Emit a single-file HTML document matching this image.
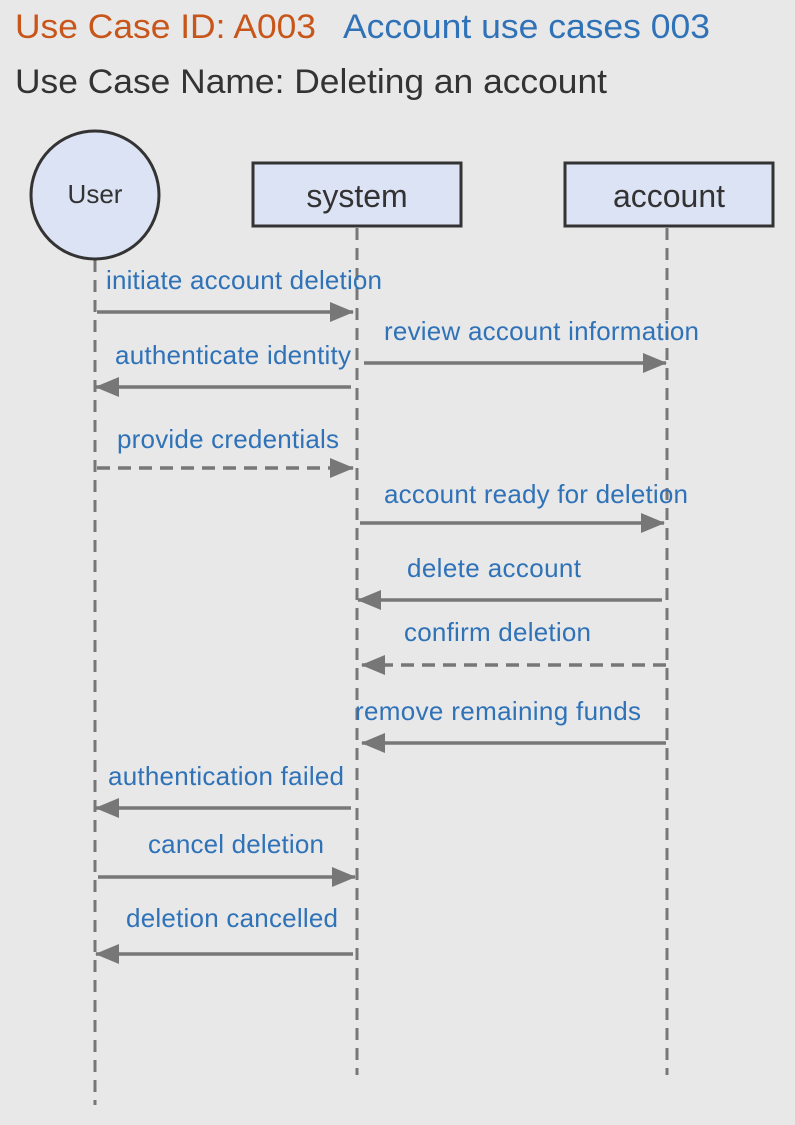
<!DOCTYPE html>
<html><head><style>
html,body{margin:0;padding:0;background:#e8e8e8;}
svg{display:block;font-family:"Liberation Sans",Arial,sans-serif;}
</style></head><body>
<svg width="795" height="1125" viewBox="0 0 795 1125" xmlns="http://www.w3.org/2000/svg">
<rect x="0" y="0" width="795" height="1125" fill="#e8e8e8"/>
<text x="15" y="38" font-size="34" fill="#c8561b" textLength="301" lengthAdjust="spacingAndGlyphs">Use Case ID: A003</text>
<text x="343" y="38" font-size="34" fill="#2f72b8" textLength="367" lengthAdjust="spacingAndGlyphs">Account use cases 003</text>
<text x="15" y="93" font-size="34" fill="#333" textLength="592" lengthAdjust="spacingAndGlyphs">Use Case Name: Deleting an account</text>
<defs>
<marker id="b" markerWidth="24" markerHeight="20" refX="23" refY="10" orient="auto" markerUnits="userSpaceOnUse"><path d="M0,0 L24,10 L0,20 z" fill="#777"/></marker>
</defs>
<g stroke="#777" stroke-width="3" stroke-dasharray="12,8" fill="none">
<line x1="95" y1="260" x2="95" y2="1105"/>
<line x1="357" y1="228" x2="357" y2="1075"/>
<line x1="667" y1="228" x2="667" y2="1075"/>
</g>
<circle cx="95" cy="195" r="64" fill="#dce3f5" stroke="#333" stroke-width="3"/>
<text x="95" y="203" font-size="26" text-anchor="middle" fill="#333">User</text>
<rect x="253" y="163" width="208" height="63" fill="#dce3f5" stroke="#333" stroke-width="3"/>
<text x="357" y="207" font-size="32" text-anchor="middle" fill="#333">system</text>
<rect x="565" y="163" width="208" height="63" fill="#dce3f5" stroke="#333" stroke-width="3"/>
<text x="669" y="207" font-size="32" text-anchor="middle" fill="#333">account</text>
<g stroke="#777" stroke-width="3.5" fill="none" marker-end="url(#b)">
<line x1="97" y1="312" x2="353" y2="312"/>
<line x1="364" y1="363" x2="666" y2="363"/>
<line x1="351" y1="387" x2="96" y2="387"/>
<line x1="97" y1="468" x2="353" y2="468" stroke-dasharray="13,8"/>
<line x1="360" y1="523" x2="664" y2="523"/>
<line x1="662" y1="600" x2="358" y2="600"/>
<line x1="666" y1="665" x2="362" y2="665" stroke-dasharray="13,8"/>
<line x1="666" y1="743" x2="362" y2="743"/>
<line x1="351" y1="808" x2="96" y2="808"/>
<line x1="98" y1="877" x2="355" y2="877"/>
<line x1="353" y1="954" x2="96" y2="954"/>
</g>
<g font-size="26" fill="#2f72b8" lengthAdjust="spacingAndGlyphs">
<text x="106" y="289" textLength="276">initiate account deletion</text>
<text x="384" y="340" textLength="315">review account information</text>
<text x="115" y="364" textLength="236">authenticate identity</text>
<text x="117" y="448" textLength="222">provide credentials</text>
<text x="384" y="503" textLength="304">account ready for deletion</text>
<text x="407" y="577" textLength="174">delete account</text>
<text x="404" y="641" textLength="187">confirm deletion</text>
<text x="355" y="720" textLength="286">remove remaining funds</text>
<text x="108" y="785" textLength="236">authentication failed</text>
<text x="148" y="853" textLength="176">cancel deletion</text>
<text x="126" y="927" textLength="212">deletion cancelled</text>
</g>
</svg>
</body></html>
